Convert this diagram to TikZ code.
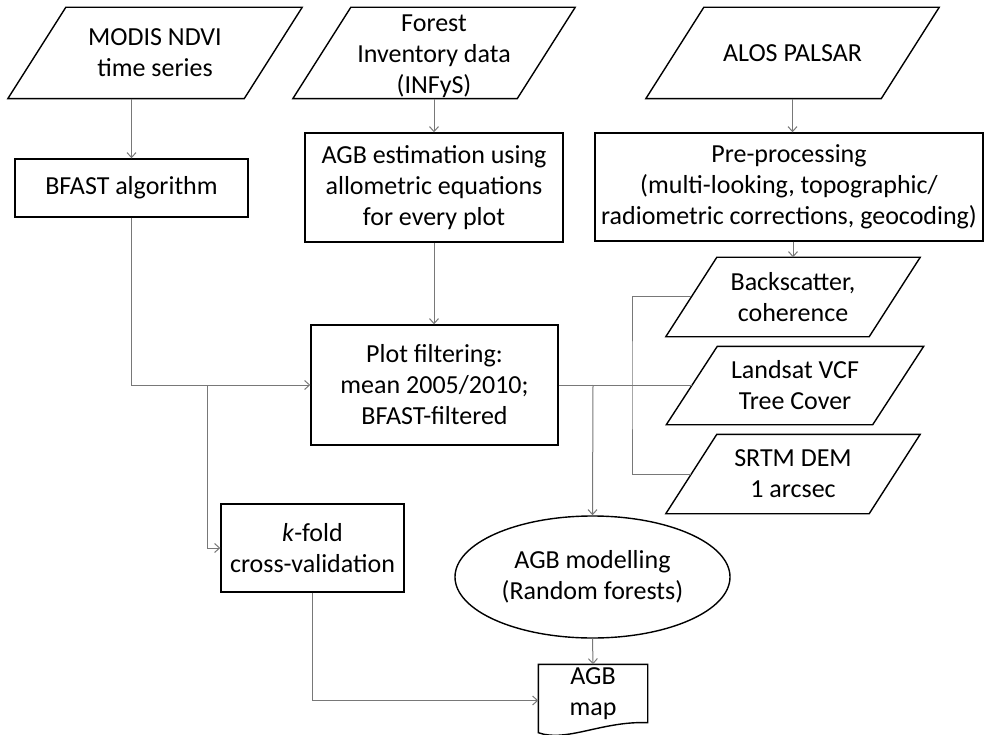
\documentclass[tikz,border=0pt]{standalone}
\usepackage{fontspec}
\setmainfont{Carlito}
\usetikzlibrary{calc,arrows.meta,shapes.geometric}
\definecolor{flowlink}{RGB}{120,120,120}
\tikzset{
  flow node/.style={draw=black,line width=1.4pt,align=center,inner sep=1pt,
    font=\fontsize{26}{31}\selectfont},
  flow box/.style 2 args={flow node,rectangle,minimum width=#1,minimum height=#2},
  flow data/.style 2 args={flow node,draw=none,inner sep=0pt,minimum width=#1,minimum height=#2},
  flow model/.style 2 args={flow node,ellipse,inner sep=0pt,minimum width=#1,minimum height=#2},
  flow doc/.style 2 args={flow node,draw=none,minimum width=#1,minimum height=#2},
  flow edge/.style={draw=black,line width=1.4pt,line join=miter},
  flow line/.style={draw=flowlink,line width=1pt},
  flow arrow/.style={flow line,-{Straight Barb[length=5pt,width=9pt]}},
}
% slanted frame round a data node: name, half skew
\newcommand\flowdataframe[2]{%
  \draw[flow edge] ($(#1.north west)+(#2,0)$) -- ($(#1.north east)+(#2,0)$)
    -- ($(#1.south east)+(-#2,0)$) -- ($(#1.south west)+(-#2,0)$) -- cycle;}

\begin{document}
\begin{tikzpicture}[x=1pt,y=-1pt]
\useasboundingbox (0,0) rectangle (985,735);

\node[flow data={235pt}{90pt}] (modis) at (155,53) {MODIS NDVI\\time series};
\node[flow data={223pt}{90pt}] (forest) at (434,53)
  {\raisebox{-10pt}[0pt][0pt]{\begin{tabular}{@{}c@{}}Forest\\Inventory data\\(INFyS)\end{tabular}}};
\node[flow data={234pt}{90pt}] (alos) at (792.5,53) {ALOS PALSAR};

\node[flow box={233pt}{58pt}] (bfast) at (131.5,188) {BFAST algorithm};
\node[flow box={258pt}{109pt}] (agbest) at (434,187.5) {AGB estimation using\\allometric equations\\for every plot};
\node[flow box={388pt}{108pt}] (preproc) at (789,187) {Pre-processing\\(multi-looking, topographic/\\radiometric corrections, geocoding)};

\node[flow data={202pt}{78pt}] (backsc) at (793,297) {Backscatter,\\coherence};
\node[flow data={205pt}{77pt}] (landsat) at (795,385.5) {Landsat VCF\\Tree Cover};
\node[flow data={202pt}{78pt}] (srtm) at (793,474) {SRTM DEM\\1 arcsec};

\foreach \nm/\sk in {modis/29,forest/29,alos/29,backsc/25.5,landsat/25.5,srtm/25.5}
  \flowdataframe{\nm}{\sk};

\node[flow box={247pt}{120pt}] (plot) at (434.5,385) {Plot filtering:\\mean 2005/2010;\\BFAST-filtered};
\node[flow box={183pt}{88pt}] (kfold) at (312.5,548) {\textit{k}-fold\\cross-validation};
\node[flow model={275pt}{122pt}] (model) at (592.5,577) {AGB modelling\\(Random forests)};
\node[flow doc={108pt}{57pt}] (agbmap) at (593,693.5) {AGB\\map};
\draw[flow edge] (agbmap.north west) -- (agbmap.north east) -- (agbmap.south east)
  .. controls ($(agbmap.south east)+(-45,-2)$) and ($(agbmap.south west)+(28,20)$) .. ($(agbmap.south west)+(0,10)$) -- cycle;

\coordinate (cvsplit) at (207,385);
\coordinate (sensorbus) at (632,385);
\coordinate (modeltap) at (593,385);

\draw[flow arrow] (modis.south -| bfast.north) -- (bfast.north);
\draw[flow arrow] (forest.south) -- (agbest.north);
\draw[flow arrow] (alos.south) -- (alos.south |- preproc.north);
\draw[flow arrow] (backsc.north |- preproc.south) -- (backsc.north);
\draw[flow arrow] (agbest.south) -- (agbest.south |- plot.north);
\draw[flow arrow] (bfast.south) |- (plot.west);
\draw[flow arrow] (cvsplit) |- (kfold.west);
\draw[flow arrow] (kfold.south) |- ($(agbmap.west)+(0,7)$);
\draw[flow line] (plot.east) -- (plot.east -| landsat.west);
\draw[flow line] (backsc.west) -| (sensorbus) |- (srtm.west);
\draw[flow arrow] (modeltap) -- (model.north);
\draw[flow arrow] (model.south) -- (agbmap.north);
\end{tikzpicture}
\end{document}
